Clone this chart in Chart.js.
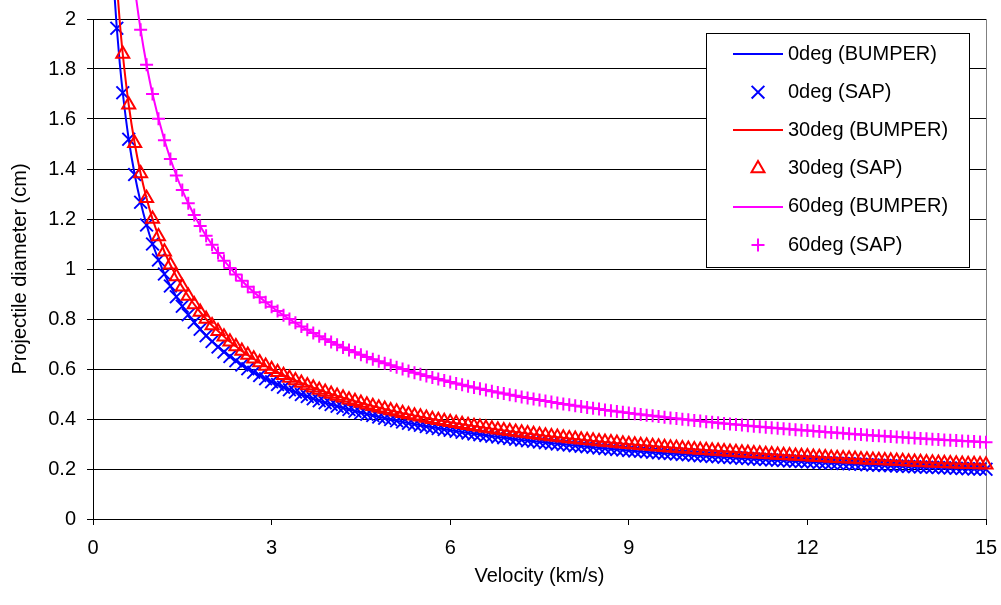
<!DOCTYPE html>
<html>
<head>
<meta charset="utf-8">
<title>Projectile diameter vs velocity</title>
<script src="https://cdn.jsdelivr.net/npm/chart.js@4.4.1/dist/chart.umd.min.js"></script>
<style>
  html, body { margin: 0; padding: 0; background: #fff; }
</style>
</head>
<body>
<canvas id="diameter-chart" width="1001" height="605"></canvas>
<script>
// BUMPER curves, read at a coarser velocity step
const bumperVel = [0.35, 0.4, 0.45, 0.5, 0.6, 0.7, 0.8, 0.9, 1.0, 1.2, 1.4, 1.6, 1.8, 2.0, 2.5,
  3.0, 3.5, 4.0, 5.0, 6.0, 7.0, 8.0, 9.0, 10.0, 11.0, 12.0, 13.0, 14.0, 15.0];
const bumper0 = [2.135, 1.963, 1.822, 1.705, 1.519, 1.378, 1.267, 1.176, 1.100, 0.980, 0.889, 0.817, 0.759, 0.710, 0.616,
  0.549, 0.498, 0.458, 0.398, 0.355, 0.322, 0.296, 0.274, 0.257, 0.242, 0.229, 0.217, 0.207, 0.199];
const bumper30 = [2.330, 2.141, 1.988, 1.860, 1.657, 1.503, 1.382, 1.283, 1.200, 1.069, 0.970, 0.892, 0.828, 0.774, 0.672,
  0.599, 0.544, 0.500, 0.434, 0.387, 0.351, 0.322, 0.299, 0.280, 0.264, 0.250, 0.237, 0.226, 0.217];
const bumper60 = [3.300, 3.030, 2.820, 2.630, 2.350, 2.130, 1.957, 1.817, 1.700, 1.515, 1.374, 1.263, 1.172, 1.097, 0.953,
  0.849, 0.770, 0.708, 0.615, 0.548, 0.497, 0.457, 0.424, 0.397, 0.373, 0.354, 0.336, 0.321, 0.307];

// SAP points, one every 0.1 km/s
const sapVel = [0.4, 0.5, 0.6, 0.7, 0.8, 0.9,
  1.0, 1.1, 1.2, 1.3, 1.4, 1.5, 1.6, 1.7, 1.8, 1.9,
  2.0, 2.1, 2.2, 2.3, 2.4, 2.5, 2.6, 2.7, 2.8, 2.9,
  3.0, 3.1, 3.2, 3.3, 3.4, 3.5, 3.6, 3.7, 3.8, 3.9,
  4.0, 4.1, 4.2, 4.3, 4.4, 4.5, 4.6, 4.7, 4.8, 4.9,
  5.0, 5.1, 5.2, 5.3, 5.4, 5.5, 5.6, 5.7, 5.8, 5.9,
  6.0, 6.1, 6.2, 6.3, 6.4, 6.5, 6.6, 6.7, 6.8, 6.9,
  7.0, 7.1, 7.2, 7.3, 7.4, 7.5, 7.6, 7.7, 7.8, 7.9,
  8.0, 8.1, 8.2, 8.3, 8.4, 8.5, 8.6, 8.7, 8.8, 8.9,
  9.0, 9.1, 9.2, 9.3, 9.4, 9.5, 9.6, 9.7, 9.8, 9.9,
  10.0, 10.1, 10.2, 10.3, 10.4, 10.5, 10.6, 10.7, 10.8, 10.9,
  11.0, 11.1, 11.2, 11.3, 11.4, 11.5, 11.6, 11.7, 11.8, 11.9,
  12.0, 12.1, 12.2, 12.3, 12.4, 12.5, 12.6, 12.7, 12.8, 12.9,
  13.0, 13.1, 13.2, 13.3, 13.4, 13.5, 13.6, 13.7, 13.8, 13.9,
  14.0, 14.1, 14.2, 14.3, 14.4, 14.5, 14.6, 14.7, 14.8, 14.9,
  15.0];
const sap0 = [1.963, 1.705, 1.519, 1.378, 1.267, 1.176,
  1.100, 1.036, 0.980, 0.932, 0.889, 0.851, 0.817, 0.787, 0.759, 0.733,
  0.710, 0.688, 0.668, 0.650, 0.633, 0.616, 0.601, 0.587, 0.574, 0.561,
  0.549, 0.538, 0.527, 0.517, 0.508, 0.498, 0.490, 0.481, 0.473, 0.465,
  0.458, 0.451, 0.444, 0.438, 0.431, 0.425, 0.419, 0.414, 0.408, 0.403,
  0.398, 0.393, 0.388, 0.383, 0.379, 0.375, 0.370, 0.366, 0.362, 0.358,
  0.355, 0.351, 0.347, 0.344, 0.340, 0.337, 0.334, 0.331, 0.328, 0.325,
  0.322, 0.319, 0.316, 0.313, 0.311, 0.308, 0.305, 0.303, 0.300, 0.298,
  0.296, 0.293, 0.291, 0.289, 0.287, 0.284, 0.282, 0.280, 0.278, 0.276,
  0.274, 0.272, 0.271, 0.269, 0.267, 0.265, 0.263, 0.262, 0.260, 0.258,
  0.257, 0.255, 0.253, 0.252, 0.250, 0.249, 0.247, 0.246, 0.245, 0.243,
  0.242, 0.240, 0.239, 0.238, 0.236, 0.235, 0.234, 0.232, 0.231, 0.230,
  0.229, 0.228, 0.226, 0.225, 0.224, 0.223, 0.222, 0.221, 0.220, 0.219,
  0.217, 0.216, 0.215, 0.214, 0.213, 0.212, 0.211, 0.210, 0.209, 0.208,
  0.207, 0.207, 0.206, 0.205, 0.204, 0.203, 0.202, 0.201, 0.200, 0.200,
  0.199];
const sap30 = [null, 1.860, 1.657, 1.503, 1.382, 1.283,
  1.200, 1.130, 1.069, 1.017, 0.970, 0.929, 0.892, 0.858, 0.828, 0.800,
  0.774, 0.751, 0.729, 0.709, 0.690, 0.672, 0.656, 0.641, 0.626, 0.612,
  0.599, 0.587, 0.575, 0.564, 0.554, 0.544, 0.534, 0.525, 0.516, 0.508,
  0.500, 0.492, 0.485, 0.477, 0.471, 0.464, 0.457, 0.451, 0.445, 0.440,
  0.434, 0.429, 0.423, 0.418, 0.413, 0.409, 0.404, 0.399, 0.395, 0.391,
  0.387, 0.383, 0.379, 0.375, 0.371, 0.368, 0.364, 0.361, 0.357, 0.354,
  0.351, 0.348, 0.345, 0.342, 0.339, 0.336, 0.333, 0.330, 0.328, 0.325,
  0.322, 0.320, 0.317, 0.315, 0.313, 0.310, 0.308, 0.306, 0.304, 0.301,
  0.299, 0.297, 0.295, 0.293, 0.291, 0.289, 0.287, 0.285, 0.284, 0.282,
  0.280, 0.278, 0.276, 0.275, 0.273, 0.272, 0.270, 0.268, 0.267, 0.265,
  0.264, 0.262, 0.261, 0.259, 0.258, 0.256, 0.255, 0.254, 0.252, 0.251,
  0.250, 0.248, 0.247, 0.246, 0.244, 0.243, 0.242, 0.241, 0.240, 0.238,
  0.237, 0.236, 0.235, 0.234, 0.233, 0.232, 0.231, 0.229, 0.228, 0.227,
  0.226, 0.225, 0.224, 0.223, 0.222, 0.221, 0.220, 0.219, 0.219, 0.218,
  0.217];
const sap60 = [null, null, null, null, 1.957, 1.817,
  1.700, 1.601, 1.515, 1.440, 1.374, 1.316, 1.263, 1.216, 1.172, 1.133,
  1.097, 1.064, 1.033, 1.004, 0.978, 0.953, 0.929, 0.907, 0.887, 0.867,
  0.849, 0.832, 0.815, 0.800, 0.785, 0.770, 0.757, 0.744, 0.731, 0.719,
  0.708, 0.697, 0.686, 0.676, 0.667, 0.657, 0.648, 0.639, 0.631, 0.623,
  0.615, 0.607, 0.600, 0.592, 0.585, 0.579, 0.572, 0.566, 0.560, 0.554,
  0.548, 0.542, 0.537, 0.531, 0.526, 0.521, 0.516, 0.511, 0.506, 0.502,
  0.497, 0.493, 0.488, 0.484, 0.480, 0.476, 0.472, 0.468, 0.464, 0.460,
  0.457, 0.453, 0.450, 0.446, 0.443, 0.440, 0.436, 0.433, 0.430, 0.427,
  0.424, 0.421, 0.418, 0.415, 0.413, 0.410, 0.407, 0.404, 0.402, 0.399,
  0.397, 0.394, 0.392, 0.389, 0.387, 0.385, 0.382, 0.380, 0.378, 0.376,
  0.373, 0.371, 0.369, 0.367, 0.365, 0.363, 0.361, 0.359, 0.357, 0.355,
  0.354, 0.352, 0.350, 0.348, 0.346, 0.345, 0.343, 0.341, 0.339, 0.338,
  0.336, 0.334, 0.333, 0.331, 0.330, 0.328, 0.327, 0.325, 0.324, 0.322,
  0.321, 0.319, 0.318, 0.316, 0.315, 0.314, 0.312, 0.311, 0.310, 0.308,
  0.307];

const SERIES_LABELS = ['0deg (BUMPER)', '0deg (SAP)', '30deg (BUMPER)', '30deg (SAP)', '60deg (BUMPER)', '60deg (SAP)'];
const X_TITLE = 'Velocity (km/s)';
const Y_TITLE = 'Projectile diameter (cm)';

const FONT = '"Liberation Sans", Arial, sans-serif';
const BLUE = '#0000ff';
const RED = '#ff0000';
const MAGENTA = '#ff00ff';

const toPoints = (xs, ys) => xs.map((x, i) => ({ x, y: ys[i] }));
const clipArea = { left: 0, top: false, right: 10, bottom: 0 };

const lineSet = (i, ys, color) => ({
  label: SERIES_LABELS[i],
  data: toPoints(bumperVel, ys),
  showLine: true,
  borderColor: color,
  borderWidth: 2,
  pointRadius: 0,
  cubicInterpolationMode: 'monotone',
  clip: clipArea,
  order: 6 - i,
});

const markerSet = (i, ys, color, style, radius) => ({
  label: SERIES_LABELS[i],
  data: toPoints(sapVel, ys),
  showLine: false,
  borderColor: color,
  backgroundColor: 'rgba(0,0,0,0)',
  pointStyle: style,
  pointRadius: radius,
  pointBorderWidth: 2,
  clip: clipArea,
  order: 6 - i,
});

// drop the automatic label overhang so the plot area follows layout.padding
const noOverhang = (scale) => {
  scale.paddingLeft = 0;
  scale.paddingRight = 0;
  scale.paddingTop = 0;
  scale.paddingBottom = 0;
};

// boxed legend inside the plot, top right
const boxLegend = {
  id: 'boxLegend',
  afterDraw(chart) {
    const ctx = chart.ctx;
    ctx.save();
    ctx.fillStyle = '#fff';
    ctx.fillRect(706, 33, 263, 234);
    ctx.strokeStyle = '#000';
    ctx.lineWidth = 1;
    ctx.strokeRect(706.5, 33.5, 263, 234);
    chart.data.datasets.forEach((ds, i) => {
      const y = 54 + i * 38.2;
      ctx.strokeStyle = ds.borderColor;
      if (ds.showLine) {
        ctx.lineWidth = 2;
        ctx.beginPath();
        ctx.moveTo(733, Math.round(y));
        ctx.lineTo(783, Math.round(y));
        ctx.stroke();
      } else {
        ctx.fillStyle = 'rgba(0,0,0,0)';
        ctx.lineWidth = 2;
        Chart.helpers.drawPoint(ctx, { pointStyle: ds.pointStyle, radius: ds.pointRadius, rotation: 0, borderWidth: 2 }, 758, y);
      }
      ctx.fillStyle = '#000';
      ctx.font = '20px ' + FONT;
      ctx.textBaseline = 'middle';
      ctx.textAlign = 'left';
      ctx.fillText(ds.label, 788, y);
    });
    ctx.restore();
  },
};

// grey frame on the right of the plot area
const plotFrame = {
  id: 'plotFrame',
  beforeDatasetsDraw(chart) {
    const { ctx, chartArea: a } = chart;
    ctx.save();
    ctx.strokeStyle = '#808080';
    ctx.lineWidth = 1;
    ctx.beginPath();
    ctx.moveTo(Math.round(a.right) + 0.5, a.top);
    ctx.lineTo(Math.round(a.right) + 0.5, a.bottom);
    ctx.stroke();
    ctx.restore();
  },
};

Chart.defaults.font.family = FONT;
Chart.defaults.font.size = 20;
Chart.defaults.color = '#000';

new Chart(document.getElementById('diameter-chart'), {
  type: 'scatter',
  data: {
    datasets: [
      lineSet(0, bumper0, BLUE),
      markerSet(1, sap0, BLUE, 'crossRot', 9),
      lineSet(2, bumper30, RED),
      markerSet(3, sap30, RED, 'triangle', 7.5),
      lineSet(4, bumper60, MAGENTA),
      markerSet(5, sap60, MAGENTA, 'cross', 6.5),
    ],
  },
  options: {
    responsive: false,
    animation: false,
    events: [],
    layout: { padding: { left: 0, top: 19, right: 15, bottom: 0 } },
    plugins: {
      legend: { display: false },
      tooltip: { enabled: false },
    },
    scales: {
      x: {
        type: 'linear',
        min: 0,
        max: 15,
        afterFit: (scale) => { scale.height = 86; noOverhang(scale); },
        ticks: { stepSize: 3, padding: 11 },
        grid: { drawOnChartArea: false, drawTicks: true, tickLength: 6, color: '#000' },
        border: { color: '#000', width: 1 },
        title: { display: true, text: X_TITLE, padding: { top: 0, bottom: 17 } },
      },
      y: {
        min: 0,
        max: 2,
        afterFit: (scale) => { scale.width = 93; noOverhang(scale); },
        ticks: {
          stepSize: 0.2,
          padding: 11,
          callback: (v) => String(Number(v.toFixed(1))),
        },
        grid: { color: '#000', lineWidth: 1, tickLength: 6 },
        border: { color: '#000', width: 1 },
        title: { display: true, text: Y_TITLE, padding: { top: 8, bottom: 0 } },
      },
    },
  },
  plugins: [plotFrame, boxLegend],
});
</script>
</body>
</html>
